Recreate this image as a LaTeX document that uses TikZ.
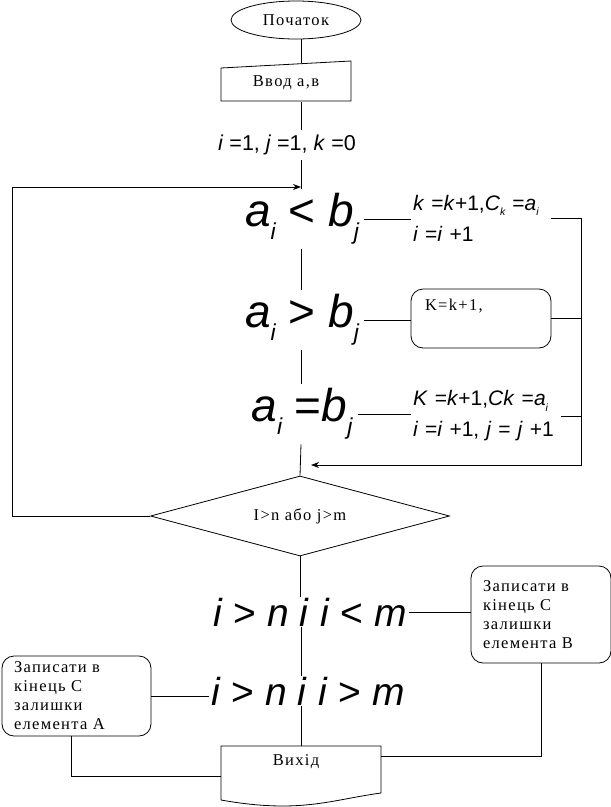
\documentclass[tikz,border=0pt]{standalone}
\usepackage{fontspec}
\setmainfont[LetterSpace=8]{Liberation Serif}
\newfontfamily\msf{Liberation Sans}
\usetikzlibrary{positioning,arrows.meta,shapes.geometric,calc}
\newcommand{\labfont}{\fontsize{16.5}{19}\selectfont}
\newcommand{\fmfont}{\msf\fontsize{21}{31}\selectfont}
\newcommand{\initfont}{\msf\fontsize{21.5}{26}\selectfont}
\newcommand{\bigfont}{\msf\fontsize{46}{48}\selectfont}
\newcommand{\cndfont}{\msf\fontsize{39}{44}\selectfont}
\newcommand{\vr}[1]{\textit{#1}}
\newcommand{\ix}[1]{\raisebox{-0.28em}{\scalebox{0.5}{\itshape #1}}}
\tikzset{
  term/.style ={ellipse, draw, minimum width=130, minimum height=38, inner sep=1pt, font=\labfont},
  txt/.style  ={inner sep=1pt, font=\labfont},
  proc/.style ={draw, rounded corners=12, align=left, font=\labfont},
  decis/.style={diamond, draw, aspect=3.7, minimum width=299, minimum height=80, inner sep=0pt, font=\labfont},
  fm/.style   ={inner xsep=2pt, inner ysep=0pt, align=left, font=\fmfont},
  big/.style  ={inner xsep=5pt, inner ysep=0pt, minimum height=60, font=\bigfont},
  cnd/.style  ={inner xsep=2pt, inner ysep=0pt, font=\cndfont},
  arr/.style  ={-{Stealth[length=8pt,width=6pt]}},
}

\begin{document}
\begin{tikzpicture}[x=1pt, y=-1pt, line width=0.8pt]
  \useasboundingbox (0,0) rectangle (611,807);
  \coordinate (ax) at (301,0);
  \coordinate (lx) at (12,0);
  \coordinate (rx) at (581,0);
  \coordinate (loopin) at (301,187);
  \coordinate (mrg) at (311,465);

  % start, input, init
  \node[term] (start) at (296,20) {Початок};
  \draw (221,101) -- (221,68) -- (351,61) -- (351,101) -- cycle;
  \node[txt, minimum width=130, minimum height=39] (inp) at (286,82.5) {Ввод а,в};
  \node[txt, font=\initfont, minimum height=30] (init) at (287,145)
    {\vr{i} =1, \vr{j} =1, \vr{k} =0};

  % comparisons
  \node[big] (lt) at (302,219) {\vr{a}\ix{i} < \vr{b}\ix{j}};
  \node[big] (gt) at (302,320) {\vr{a}\ix{i} > \vr{b}\ix{j}};
  \node[big] (eq) at (302,414) {\vr{a}\ix{i} =\vr{b}\ix{j}};

  \node[fm, text width=136] (act1) at (481,218)
    {\vr{k} =\vr{k}+1,\vr{C}\ix{k} =\vr{a}\ix{i}\\ \vr{i} =\vr{i} +1};
  \node[proc, minimum width=140, minimum height=59] (act2) at (481,318.5) {};
  \node[txt, anchor=west] (act2t) at ([xshift=13,yshift=-17]act2.north west) {K=k+1,};
  \node[fm, text width=146] (act3) at (486,416)
    {\vr{K} =\vr{k}+1,\vr{Ck} =\vr{a}\ix{i}\\ \vr{i} =\vr{i} +1, \vr{j} = \vr{j} +1};

  \node[decis] (dec) at (300,516) {I>n або j>m};

  % tails
  \node[cnd] (cond1) at (310,612) {\vr{i} > \vr{n} \vr{i} \vr{i} < \vr{m}};
  \node[cnd] (cond2) at (308,691) {\vr{i} > \vr{n} \vr{i} \vr{i} > \vr{m}};
  \node[proc, text width=116, inner xsep=12, inner ysep=2, minimum height=97] (boxB) at (541,614.5)
    {Записати в\\кінець С\\залишки\\елемента В};
  \node[proc, text width=125, inner xsep=12, inner ysep=1, minimum height=80] (boxA) at (76.5,696)
    {Записати в\\кінець С\\залишки\\елемента А};

  % output
  \draw (221,800) -- (221,746) -- (381,746) -- (381,793)
    .. controls (330,800) and (300,814) .. (221,800);
  \node[txt, minimum width=160, minimum height=54] (out) at (301,773) {};
  \node[txt] (outt) at (296,762) {Вихід};

  % main line
  \draw (start.south -| ax) -- (inp.north -| ax);
  \draw (inp.south -| ax) -- (init.north -| ax);
  \draw (init.south -| ax) -- (lt.north -| ax);
  \draw (lt.south -| ax) -- (gt.north -| ax);
  \draw (gt.south -| ax) -- (eq.north -| ax);
  \draw (eq.south -| ax) -- (dec.north);
  \draw (dec.south) -- (cond1.north -| dec.south);
  \draw (cond1.south -| ax) -- (cond2.north -| ax);
  \draw (cond2.south -| ax) -- (out.north -| ax);

  % branches
  \draw (lt.east) -- (lt.east -| act1.west);
  \draw (gt.east) -- (gt.east -| act2.west);
  \draw (eq.east) -- (eq.east -| act3.west);
  \draw[arr] (act1.east) -- (act1.east -| rx) |- (mrg);
  \draw (act2.east) -- (act2.east -| rx);
  \draw (act3.east) -- (act3.east -| rx);
  \draw[arr] (dec.west) -- (dec.west -| lx) |- (loopin);

  \draw (cond1.east) -- (cond1.east -| boxB.west);
  \draw (boxA.east) -- (boxA.east -| cond2.west);
  \draw ([xshift=-5]boxA.south) |- ([yshift=-3]out.west);
  \draw (boxB.south) |- ([yshift=17]out.east);
\end{tikzpicture}
\end{document}
